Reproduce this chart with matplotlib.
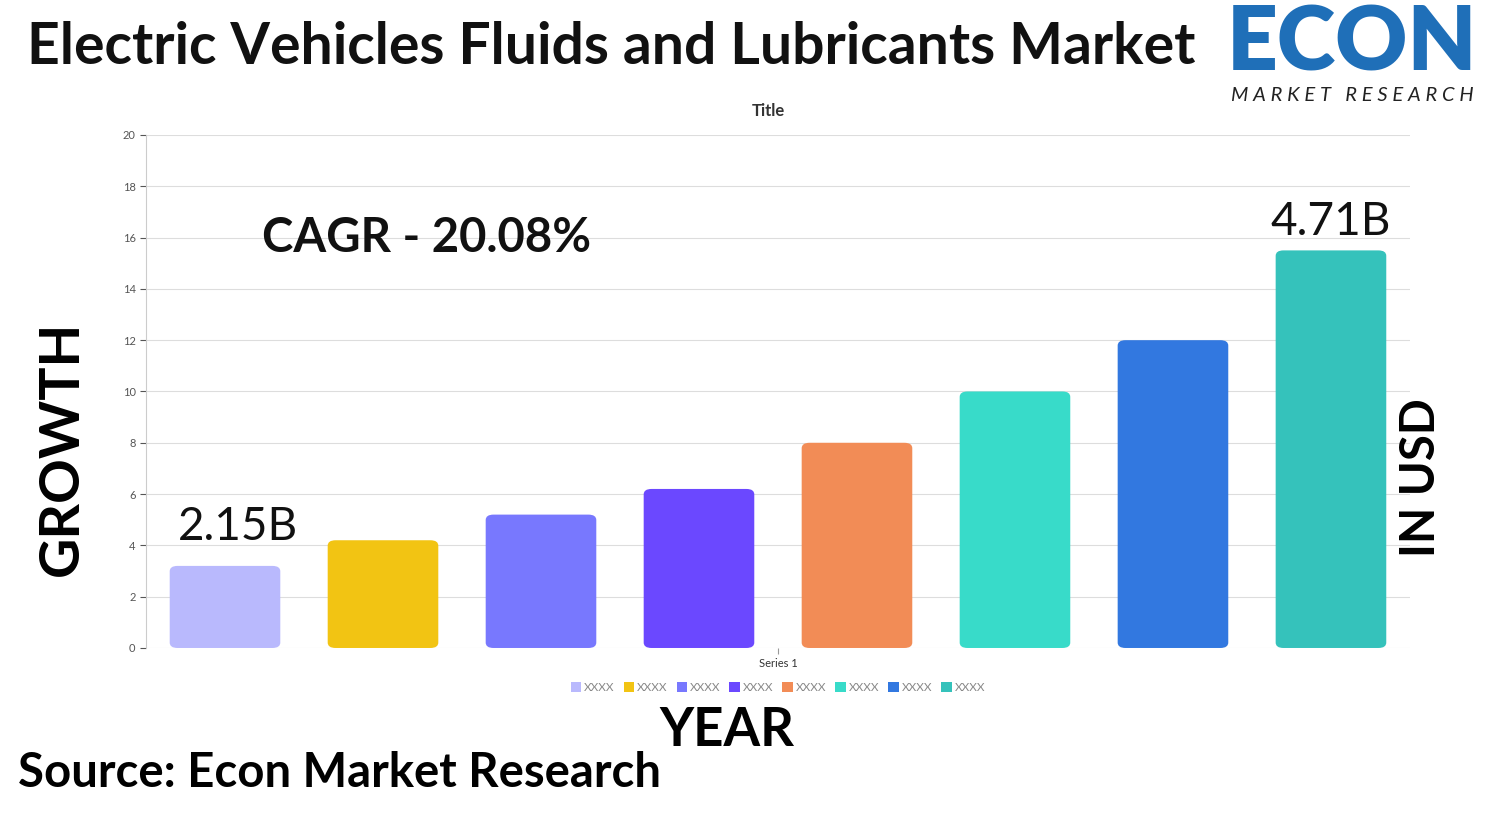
import matplotlib.pyplot as plt
from matplotlib.patches import FancyBboxPatch, Patch

# Data
years = ["XXXX"] * 8
values = [3.2, 4.2, 5.2, 6.2, 8.0, 10.0, 12.0, 15.5]
colors = ["#b9b9fd", "#f2c413", "#7878fe", "#6b48ff", "#f28c56", "#38dbc9", "#3278e0", "#35c2bb"]
yticks = [0, 2, 4, 6, 8, 10, 12, 14, 16, 18, 20]

plt.rcParams["font.family"] = "Lato"
fig = plt.figure(figsize=(14.99, 8.16), dpi=100)
ax = fig.add_axes([0.0974, 0.2059, 0.8432, 0.6287])

x = list(range(len(values)))
for xi, v, c in zip(x, values, colors):
    ax.add_patch(FancyBboxPatch((xi - 0.35, 0), 0.7, v, boxstyle="round,pad=0,rounding_size=0.05",
                                mutation_aspect=4.2, fc=c, ec="none"))
ax.set_xlim(-0.5, 7.5)
ax.set_ylim(0, 20)
ax.set_yticks(yticks)
ax.tick_params(axis="y", labelsize=8, colors="#555555", length=4)
ax.set_xticks([3.5])
ax.set_xticklabels(["Series 1"], fontsize=8, color="#333333")
ax.tick_params(axis="x", length=4, colors="#999999", labelcolor="#333333")
ax.grid(axis="y", color="#dddddd", lw=0.8)
ax.set_axisbelow(True)
for s in ["top", "right", "bottom"]:
    ax.spines[s].set_visible(False)
ax.spines["left"].set_color("#cccccc")
ax.text(0.4925, 1.047, "Title", transform=ax.transAxes, ha="center", va="center",
        fontsize=12, fontweight="bold", color="#333333")

handles = [Patch(fc=c, ec="none") for c in colors]
ax.legend(handles, years, loc="upper center", bbox_to_anchor=(0.5, -0.045), ncol=8, frameon=False,
          fontsize=8.5, handlelength=0.9, handleheight=0.9, handletextpad=0.25, columnspacing=0.75,
          labelcolor="#888888")

fig.text(0.175, 0.708, "CAGR - 20.08%", fontsize=34, fontweight="bold", color="#111111", va="center")
ax.text(0.08, values[0] + 1.0, "2.15B", ha="center", fontsize=33, color="#111111")
ax.text(7, values[-1] + 0.6, "4.71B", ha="center", fontsize=33, color="#111111")

fig.text(0.018, 0.942, "Electric Vehicles Fluids and Lubricants Market", fontsize=41,
         fontweight="bold", color="#111111", va="center")
fig.text(0.041, 0.45, "GROWTH", rotation=90, fontsize=40, fontweight="bold", va="center", ha="center")
fig.text(0.948, 0.415, "IN USD", rotation=90, fontsize=34, fontweight="bold", va="center", ha="center")
fig.text(0.485, 0.105, "YEAR", fontsize=38, fontweight="bold", ha="center", va="center")
fig.text(0.012, 0.053, "Source: Econ Market Research", fontsize=34, fontweight="bold", va="center")

# logo
fig.text(0.902, 0.945, "ECON", fontsize=64, fontweight="heavy", color="#1f6fb8", ha="center", va="center")
fig.text(0.902, 0.883, "M A R K E T   R E S E A R C H", fontsize=14.5, style="italic", color="#222222",
         ha="center", va="center")

fig.savefig("out.png", dpi=100)
